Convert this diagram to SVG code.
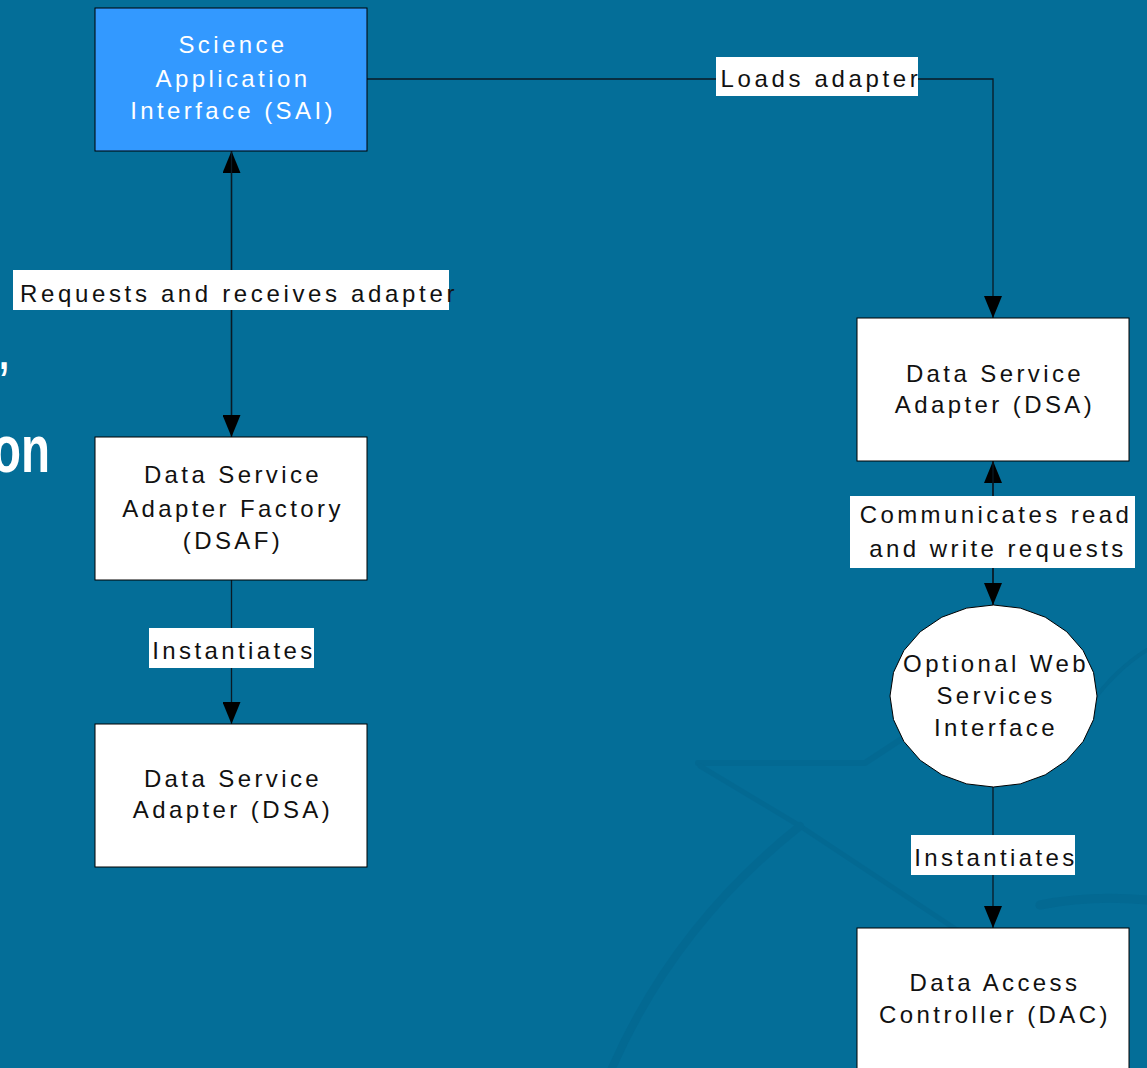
<svg xmlns="http://www.w3.org/2000/svg" width="1147" height="1068" viewBox="0 0 1147 1068">
<defs>
<style>
.bg{fill:#046e98}
.deco{fill:none;stroke:#03628a;stroke-linecap:round;stroke-linejoin:round}
.box{fill:#ffffff;stroke:#000;stroke-width:1}
.sai{fill:#3399ff;stroke:#000;stroke-width:1}
.t{font-family:"Liberation Sans",Arial,sans-serif;font-size:24px;letter-spacing:3.4px;fill:#111;text-anchor:middle}
.l{letter-spacing:3.65px}
.tw{fill:#ffffff}
.lbl{fill:#ffffff}
.conn{fill:none;stroke:#0a1a24;stroke-width:1.3}
.title{font-family:"Liberation Sans",Arial,sans-serif;font-weight:bold;fill:#ffffff}
</style>
<marker id="arr" viewBox="0 0 22 18" refX="22" refY="9" markerWidth="22" markerHeight="18" markerUnits="userSpaceOnUse" orient="auto">
<path d="M0,0 L22,9 L0,18 Z" fill="#000"/>
</marker>
</defs>
<rect class="bg" x="0" y="0" width="1147" height="1068"/>
<g id="background-decoration" opacity="0.4">
<path class="deco" stroke-width="6" d="M 698 763 L 865 763 L 900 740"/>
<path class="deco" stroke-width="5" d="M 700 766 L 800 826 L 960 932"/>
<path class="deco" stroke-width="8" d="M 612 1068 Q 675 925 800 826"/>
<path class="deco" stroke-width="4" d="M 1090 705 Q 1115 670 1147 650"/>
<path class="deco" stroke-width="9" d="M 1040 905 Q 1090 895 1147 900"/>
</g>
<g id="title-fragment">
<text class="title" font-size="45" transform="translate(-1,369) scale(0.8,1)" x="0" y="0">,</text>
<text class="title" font-size="66" transform="translate(50,472) scale(0.72,1)" x="0" y="0" text-anchor="end">on</text>
</g>
<g id="connectors">
<path class="conn" d="M 367 79 L 993 79 L 993 318" marker-end="url(#arr)"/>
<path class="conn" d="M 231.5 437 L 231.5 151" marker-end="url(#arr)"/>
<path class="conn" d="M 231.5 151 L 231.5 437" marker-end="url(#arr)"/>
<path class="conn" d="M 231.5 580 L 231.5 724" marker-end="url(#arr)"/>
<path class="conn" d="M 993 605 L 993 461" marker-end="url(#arr)"/>
<path class="conn" d="M 993 461 L 993 605" marker-end="url(#arr)"/>
<path class="conn" d="M 993 787 L 993 928" marker-end="url(#arr)"/>
<rect class="lbl" x="716" y="57" width="202" height="39"/>
<text class="t l" x="821" y="87">Loads adapter</text>
<rect class="lbl" x="13" y="270" width="436" height="40"/>
<text class="t l" x="239" y="302">Requests and receives adapter</text>
<rect class="lbl" x="149" y="628" width="165" height="40"/>
<text class="t" x="234" y="659">Instantiates</text>
<rect class="lbl" x="850" y="496" width="285" height="72"/>
<text class="t" x="996" y="523">Communicates read</text>
<text class="t" x="998" y="557">and write requests</text>
<rect class="lbl" x="911" y="835" width="164" height="40"/>
<text class="t" x="996" y="866">Instantiates</text>
</g>
<g id="node-sai">
<rect class="sai" x="95" y="8" width="272" height="143"/>
<text class="t tw" x="233" y="53">Science</text>
<text class="t tw" x="233" y="87">Application</text>
<text class="t tw" x="233" y="119">Interface (SAI)</text>
</g>
<g id="node-dsaf">
<rect class="box" x="95" y="437" width="272" height="143"/>
<text class="t" x="233" y="483">Data Service</text>
<text class="t" x="233" y="517">Adapter Factory</text>
<text class="t" x="233" y="549">(DSAF)</text>
</g>
<g id="node-dsa-left">
<rect class="box" x="95" y="724" width="272" height="143"/>
<text class="t" x="233" y="787">Data Service</text>
<text class="t" x="233" y="818">Adapter (DSA)</text>
</g>
<g id="node-dsa-right">
<rect class="box" x="857" y="318" width="272" height="143"/>
<text class="t" x="995" y="382">Data Service</text>
<text class="t" x="995" y="413">Adapter (DSA)</text>
</g>
<g id="node-web-services">
<polygon class="box" points="1097,696 1093.5,719.6 1083.1,741.5 1066.7,760.3 1045.3,774.8 1020.3,783.9 993.5,787 966.7,783.9 941.8,774.8 920.3,760.3 903.9,741.5 893.5,719.6 890,696 893.5,672.4 903.9,650.5 920.3,631.7 941.8,617.2 966.7,608.1 993.5,605 1020.3,608.1 1045.3,617.2 1066.7,631.7 1083.1,650.5 1093.5,672.4"/>
<text class="t" x="996" y="672">Optional Web</text>
<text class="t" x="996" y="704">Services</text>
<text class="t" x="996" y="736">Interface</text>
</g>
<g id="node-dac">
<rect class="box" x="857" y="928" width="272" height="150"/>
<text class="t" x="995" y="991">Data Access</text>
<text class="t" x="995" y="1023">Controller (DAC)</text>
</g>
</svg>
